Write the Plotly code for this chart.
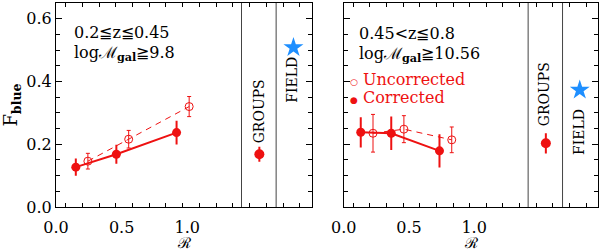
import plotly.graph_objects as go

# ---- data ----
left_corr_R = [0.151, 0.460, 0.919]
left_corr_F = [0.127, 0.168, 0.237]
left_corr_err = [0.024, 0.027, 0.035]
left_unc_R = [0.243, 0.554, 1.015]
left_unc_F = [0.146, 0.216, 0.320]
left_unc_err = [0.025, 0.028, 0.032]
left_groups_F = [0.168]
left_groups_err = [0.021]
left_field_F = [0.508]

right_corr_R = [0.130, 0.364, 0.734]
right_corr_F = [0.238, 0.235, 0.179]
right_corr_err = [0.045, 0.050, 0.050]
right_unc_R = [0.224, 0.461, 0.828]
right_unc_F = [0.235, 0.248, 0.214]
right_unc_err = [0.060, 0.043, 0.041]
right_groups_F = [0.203]
right_groups_err = [0.029]
right_field_F = [0.373]

groups_R = [1.55]
field_R = [1.81]
separators = [1.414, 1.678]
x_tickvals = [0.0, 0.5, 1.0]
x_ticktext = ["0.0", "0.5", "1.0"]

RED = "#ee1111"
BLUE = "#1e8fff"
FONT = "DejaVu Serif"

fig = go.Figure()

def add_panel(xa, ya, cR, cF, cE, uR, uF, uE, gF, gE, fF):
    fig.add_trace(go.Scatter(x=uR, y=uF, mode="lines+markers", xaxis=xa, yaxis=ya,
                             line=dict(color=RED, width=1, dash="6px,5px"),
                             marker=dict(symbol="circle-open", size=8, color=RED, line=dict(width=1)),
                             error_y=dict(type="data", array=uE, color=RED, thickness=1, width=2),
                             showlegend=False))
    fig.add_trace(go.Scatter(x=cR, y=cF, mode="lines+markers", xaxis=xa, yaxis=ya,
                             line=dict(color=RED, width=2),
                             marker=dict(symbol="circle", size=9, color=RED),
                             error_y=dict(type="data", array=cE, color=RED, thickness=2, width=1),
                             showlegend=False))
    fig.add_trace(go.Scatter(x=groups_R, y=gF, mode="markers", xaxis=xa, yaxis=ya,
                             marker=dict(symbol="circle", size=10, color=RED),
                             error_y=dict(type="data", array=gE, color=RED, thickness=2, width=1),
                             showlegend=False))
    fig.add_trace(go.Scatter(x=field_R, y=fF, mode="markers", xaxis=xa, yaxis=ya,
                             marker=dict(symbol="star", size=15, color=BLUE, line=dict(width=0)),
                             showlegend=False))

add_panel("x", "y", left_corr_R, left_corr_F, left_corr_err, left_unc_R, left_unc_F, left_unc_err,
          left_groups_F, left_groups_err, left_field_F)
add_panel("x2", "y2", right_corr_R, right_corr_F, right_corr_err, right_unc_R, right_unc_F, right_unc_err,
          right_groups_F, right_groups_err, right_field_F)

xax = dict(range=[0, 1.95], tickmode="array", tickvals=x_tickvals, ticktext=x_ticktext,
           ticks="inside", ticklen=0, showline=True, linecolor="black", linewidth=1,
           mirror="allticks", showgrid=False, zeroline=False,
           tickfont=dict(family=FONT, size=16, color="black"), ticklabelstandoff=6,
           minor=dict(tick0=0.073, dtick=0.1275, ticklen=4, tickcolor="black", ticks="inside", showgrid=False))
yax = dict(range=[0, 0.65], dtick=0.2, tick0=0, ticks="inside", ticklen=6, tickcolor="black",
           showline=True, linecolor="black", linewidth=1, mirror="allticks",
           showgrid=False, zeroline=False, tickformat=".1f",
           tickfont=dict(family=FONT, size=16, color="black"),
           minor=dict(dtick=0.05, tick0=0, ticklen=4, tickcolor="black", ticks="inside", showgrid=False))

fig.update_layout(
    width=600, height=250,
    margin=dict(l=56, r=2, t=3, b=43, autoexpand=False),
    plot_bgcolor="white", paper_bgcolor="white",
    font=dict(family=FONT, color="black"),
    xaxis=dict(xax, domain=[0, 0.472], anchor="y"),
    yaxis=dict(yax, domain=[0, 1], anchor="x",
               title=dict(text="F<sub><b>blue</b></sub>", font=dict(family=FONT, size=18, color="black"), standoff=6)),
    xaxis2=dict(xax, domain=[0.531, 1], anchor="y2"),
    yaxis2=dict(yax, domain=[0, 1], anchor="x2", matches="y", showticklabels=False),
)

for xr in ["x", "x2"]:
    for s in separators:
        fig.add_shape(type="line", xref=xr, yref="paper", x0=s, x1=s, y0=0, y1=1,
                      line=dict(color="#444444", width=1))
    # x-axis title
    fig.add_annotation(text="ℛ", xref=xr + " domain", yref="paper", x=0.5, y=-0.178,
                       showarrow=False, xanchor="center", yanchor="middle",
                       font=dict(family=FONT, size=15, color="black"))

def ann(text, xr, yr, x, y, color="black", size=16, angle=0, xanchor="left"):
    fig.add_annotation(text=text, xref=xr, yref=yr, x=x, y=y, showarrow=False,
                       xanchor=xanchor, yanchor="middle", textangle=angle,
                       font=dict(family=FONT, size=size, color=color))

ann("0.2≦z≦0.45", "x", "y", 0.12, 0.555)
ann("logℳ<sub><b>gal</b></sub>≧9.8", "x", "y", 0.12, 0.49)
ann("GROUPS", "x", "y", 1.55, 0.306, size=14, angle=-90, xanchor="center")
ann("FIELD", "x", "y", 1.798, 0.405, size=14, angle=-90, xanchor="center")

ann("0.45&lt;z≦0.8", "x2", "y2", 0.10, 0.552)
ann("logℳ<sub><b>gal</b></sub>≧10.56", "x2", "y2", 0.10, 0.487)
ann("<span style='font-size:9px'>○</span> Uncorrected", "x2", "y2", 0.03, 0.405, color=RED)
ann("<span style='font-size:9px'>●</span> Corrected", "x2", "y2", 0.03, 0.348, color=RED)
ann("GROUPS", "x2", "y2", 1.537, 0.36, size=14, angle=-90, xanchor="center")
ann("FIELD", "x2", "y2", 1.804, 0.239, size=14, angle=-90, xanchor="center")

fig.write_html("out.html", config={"displayModeBar": False},
               post_script="document.body.style.margin='0';document.body.style.overflow='hidden';")
